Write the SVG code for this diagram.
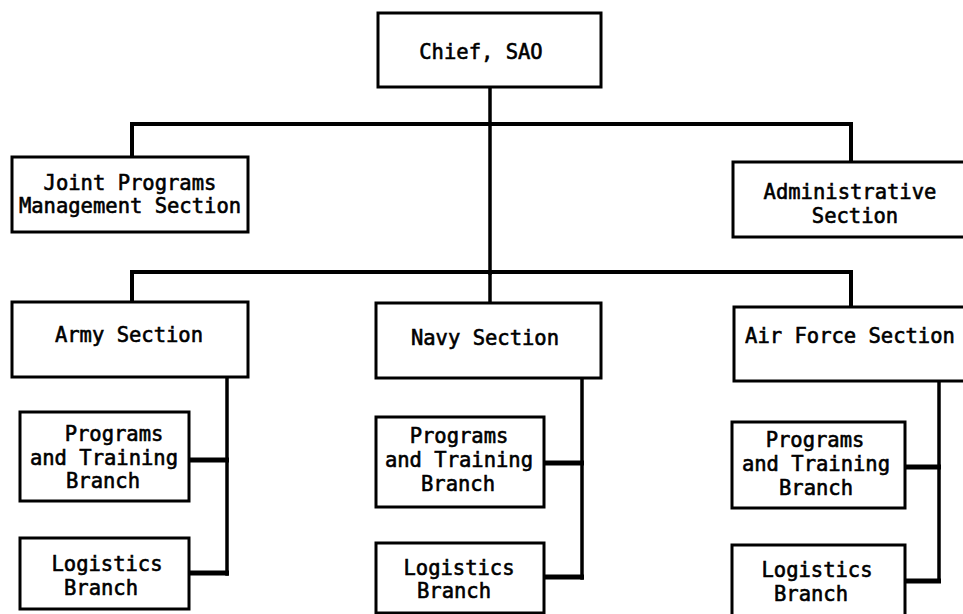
<svg xmlns="http://www.w3.org/2000/svg" width="963" height="614" viewBox="0 0 963 614">
<style>
.box{fill:#fff;stroke:#000;stroke-width:3}
.ln{fill:none;stroke:#000;stroke-width:4;stroke-linecap:square;stroke-linejoin:miter}
.ln2{fill:none;stroke:#000;stroke-width:3.5;stroke-linecap:square}
.ln3{fill:none;stroke:#000;stroke-width:5}
text{font-family:"DejaVu Sans Mono","Liberation Mono",monospace;font-size:20.5px;fill:#000;text-anchor:middle;stroke:#000;stroke-width:0.6}
</style>
<rect width="963" height="614" fill="#fff"/>
<g id="connectors">
<path class="ln2" d="M490 87V273"/>
<path class="ln" d="M132 157V124H851V162"/>
<path class="ln" d="M132 302V272H851V307"/>
<path class="ln2" d="M490 273V303"/>
<path class="ln2" d="M227 377V574"/>
<path class="ln3" d="M189 460H229M189 573H229"/>
<path class="ln2" d="M582 378V578"/>
<path class="ln3" d="M544 463H584M544 577H584"/>
<path class="ln2" d="M939 381V581"/>
<path class="ln3" d="M905 467H941M905 581H941"/>
</g>
<g id="chief"><rect class="box" x="378" y="13" width="223" height="74"/><text x="481" y="59">Chief, SAO</text></g>
<g id="jpm"><rect class="box" x="12" y="157" width="236" height="75"/><text x="130" y="190">Joint Programs</text><text x="130" y="213">Management Section</text></g>
<g id="admin"><rect class="box" x="733" y="162" width="240" height="75"/><text x="850" y="199">Administrative</text><text x="855" y="223">Section</text></g>
<g id="army"><rect class="box" x="12" y="302" width="236" height="75"/><text x="129" y="342">Army Section</text></g>
<g id="navy"><rect class="box" x="376" y="303" width="225" height="75"/><text x="485" y="345">Navy Section</text></g>
<g id="airforce"><rect class="box" x="734" y="307" width="240" height="74"/><text x="850" y="343">Air Force Section</text></g>
<g id="army-pt"><rect class="box" x="20" y="412" width="169" height="89"/><text x="114" y="441">Programs</text><text x="104" y="465">and Training</text><text x="103" y="488">Branch</text></g>
<g id="army-log"><rect class="box" x="20" y="538" width="169" height="71"/><text x="107" y="571">Logistics</text><text x="101" y="595">Branch</text></g>
<g id="navy-pt"><rect class="box" x="376" y="417" width="168" height="90"/><text x="459" y="443">Programs</text><text x="459" y="467">and Training</text><text x="458" y="491">Branch</text></g>
<g id="navy-log"><rect class="box" x="376" y="543" width="168" height="70"/><text x="459" y="575">Logistics</text><text x="454" y="598">Branch</text></g>
<g id="af-pt"><rect class="box" x="732" y="422" width="173" height="86"/><text x="815" y="447">Programs</text><text x="816" y="471">and Training</text><text x="816" y="495">Branch</text></g>
<g id="af-log"><rect class="box" x="732" y="545" width="173" height="75"/><text x="817" y="577">Logistics</text><text x="811" y="601">Branch</text></g>
</svg>
